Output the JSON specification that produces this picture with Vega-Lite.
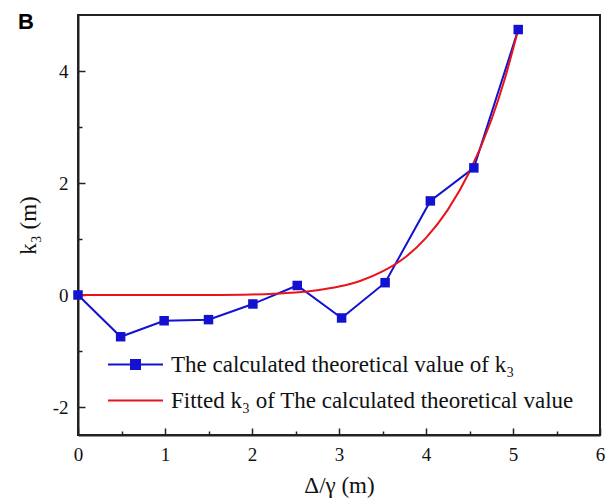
{
  "$schema": "https://vega.github.io/schema/vega-lite/v6.json",
  "width": 522,
  "height": 420,
  "autosize": "none",
  "padding": {"left": 78, "top": 15, "right": 10, "bottom": 69},
  "background": "white",
  "title": {"text": "B", "anchor": "start", "frame": "group", "dx": -60, "dy": 7, "fontSize": 22, "font": "Liberation Sans", "fontWeight": "bold", "color": "#000", "offset": -12},
  "config": {
    "view": {"stroke": "#222", "strokeWidth": 2},
    "axis": {"labelFont": "Liberation Serif", "titleFont": "Liberation Serif", "labelFontSize": 19, "titleFontSize": 23, "titleFontWeight": "normal", "labelColor": "#111", "titleColor": "#111", "domainColor": "#222", "domainWidth": 2, "tickColor": "#222", "tickWidth": 1.5, "grid": false}
  },
  "datasets": {
    "pts": [
      {"x": 0, "y": 0, "s": "The calculated theoretical value of k₃"},
      {"x": 0.49, "y": -0.745, "s": "The calculated theoretical value of k₃"},
      {"x": 0.99, "y": -0.46, "s": "The calculated theoretical value of k₃"},
      {"x": 1.5, "y": -0.44, "s": "The calculated theoretical value of k₃"},
      {"x": 2.01, "y": -0.16, "s": "The calculated theoretical value of k₃"},
      {"x": 2.52, "y": 0.17, "s": "The calculated theoretical value of k₃"},
      {"x": 3.03, "y": -0.41, "s": "The calculated theoretical value of k₃"},
      {"x": 3.53, "y": 0.22, "s": "The calculated theoretical value of k₃"},
      {"x": 4.05, "y": 1.68, "s": "The calculated theoretical value of k₃"},
      {"x": 4.55, "y": 2.27, "s": "The calculated theoretical value of k₃"},
      {"x": 5.06, "y": 4.74, "s": "The calculated theoretical value of k₃"}
    ],
    "fit": [
      {"x": 0, "y": 0, "s": "Fitted k₃ of The calculated theoretical value"},
      {"x": 0.5, "y": 0, "s": "Fitted k₃ of The calculated theoretical value"},
      {"x": 1, "y": 0, "s": "Fitted k₃ of The calculated theoretical value"},
      {"x": 1.5, "y": 0.001, "s": "Fitted k₃ of The calculated theoretical value"},
      {"x": 2, "y": 0.01, "s": "Fitted k₃ of The calculated theoretical value"},
      {"x": 2.25, "y": 0.023, "s": "Fitted k₃ of The calculated theoretical value"},
      {"x": 2.5, "y": 0.045, "s": "Fitted k₃ of The calculated theoretical value"},
      {"x": 2.75, "y": 0.085, "s": "Fitted k₃ of The calculated theoretical value"},
      {"x": 3, "y": 0.15, "s": "Fitted k₃ of The calculated theoretical value"},
      {"x": 3.25, "y": 0.255, "s": "Fitted k₃ of The calculated theoretical value"},
      {"x": 3.5, "y": 0.42, "s": "Fitted k₃ of The calculated theoretical value"},
      {"x": 3.75, "y": 0.66, "s": "Fitted k₃ of The calculated theoretical value"},
      {"x": 4, "y": 1.02, "s": "Fitted k₃ of The calculated theoretical value"},
      {"x": 4.25, "y": 1.52, "s": "Fitted k₃ of The calculated theoretical value"},
      {"x": 4.5, "y": 2.2, "s": "Fitted k₃ of The calculated theoretical value"},
      {"x": 4.75, "y": 3.12, "s": "Fitted k₃ of The calculated theoretical value"},
      {"x": 4.9, "y": 3.83, "s": "Fitted k₃ of The calculated theoretical value"},
      {"x": 5.06, "y": 4.74, "s": "Fitted k₃ of The calculated theoretical value"}
    ]
  },
  "encoding": {
    "x": {"field": "x", "type": "quantitative", "title": "Δ/γ (m)",
      "scale": {"domain": [0, 6], "nice": false},
      "axis": {"values": [0, 0.5, 1, 1.5, 2, 2.5, 3, 3.5, 4, 4.5, 5, 5.5, 6], "labelExpr": "datum.value % 1 === 0 ? toString(datum.value) : ''", "tickSize": {"condition": {"test": "datum.value % 1 !== 0", "value": -4}, "value": -7}, "labelPadding": 17, "titlePadding": 10, "labelFlush": false}},
    "y": {"field": "y", "type": "quantitative", "title": "k₃ (m)",
      "scale": {"domain": [-2.5, 5], "nice": false, "zero": false},
      "axis": {"values": [-2, -1, 0, 1, 2, 3, 4], "labelExpr": "datum.value % 2 === 0 ? toString(datum.value) : ''", "tickSize": {"condition": {"test": "datum.value % 2 !== 0", "value": -4}, "value": -7}, "labelPadding": 17, "titlePadding": 12, "labelFlush": false}}
  },
  "layer": [
    {
      "data": {"name": "pts"},
      "mark": {"type": "line", "strokeWidth": 2},
      "encoding": {
        "color": {"field": "s", "type": "nominal",
          "scale": {"domain": ["The calculated theoretical value of k₃", "Fitted k₃ of The calculated theoretical value"], "range": ["#1212d0", "#e8141c"]},
          "legend": {"title": null, "orient": "none", "legendX": 46, "legendY": 338, "padding": 0,
            "labelFont": "Liberation Serif", "labelFontSize": 23, "labelColor": "#111", "labelLimit": 600,
            "symbolType": "M-2.75,0H2.75", "symbolSize": 400, "symbolStrokeWidth": 2, "rowPadding": 12, "labelOffset": 24,
            "encode": {"symbols": {"update": {
              "shape": {"signal": "datum.value === 'The calculated theoretical value of k₃' ? 'M-2.75,0H2.75M-0.45,-0.45H0.45V0.45H-0.45Z' : 'M-2.75,0H2.75'"},
              "fill": {"signal": "datum.value === 'The calculated theoretical value of k₃' ? '#1212d0' : 'transparent'"}
            }}}}
        }
      }
    },
    {
      "data": {"name": "fit"},
      "mark": {"type": "line", "strokeWidth": 2, "interpolate": "monotone"},
      "encoding": {"color": {"field": "s", "type": "nominal"}}
    },
    {
      "data": {"name": "pts"},
      "mark": {"type": "point", "shape": "square", "filled": true, "size": 90, "opacity": 1, "color": "#1212d0"},
      "encoding": {}
    }
  ]
}
